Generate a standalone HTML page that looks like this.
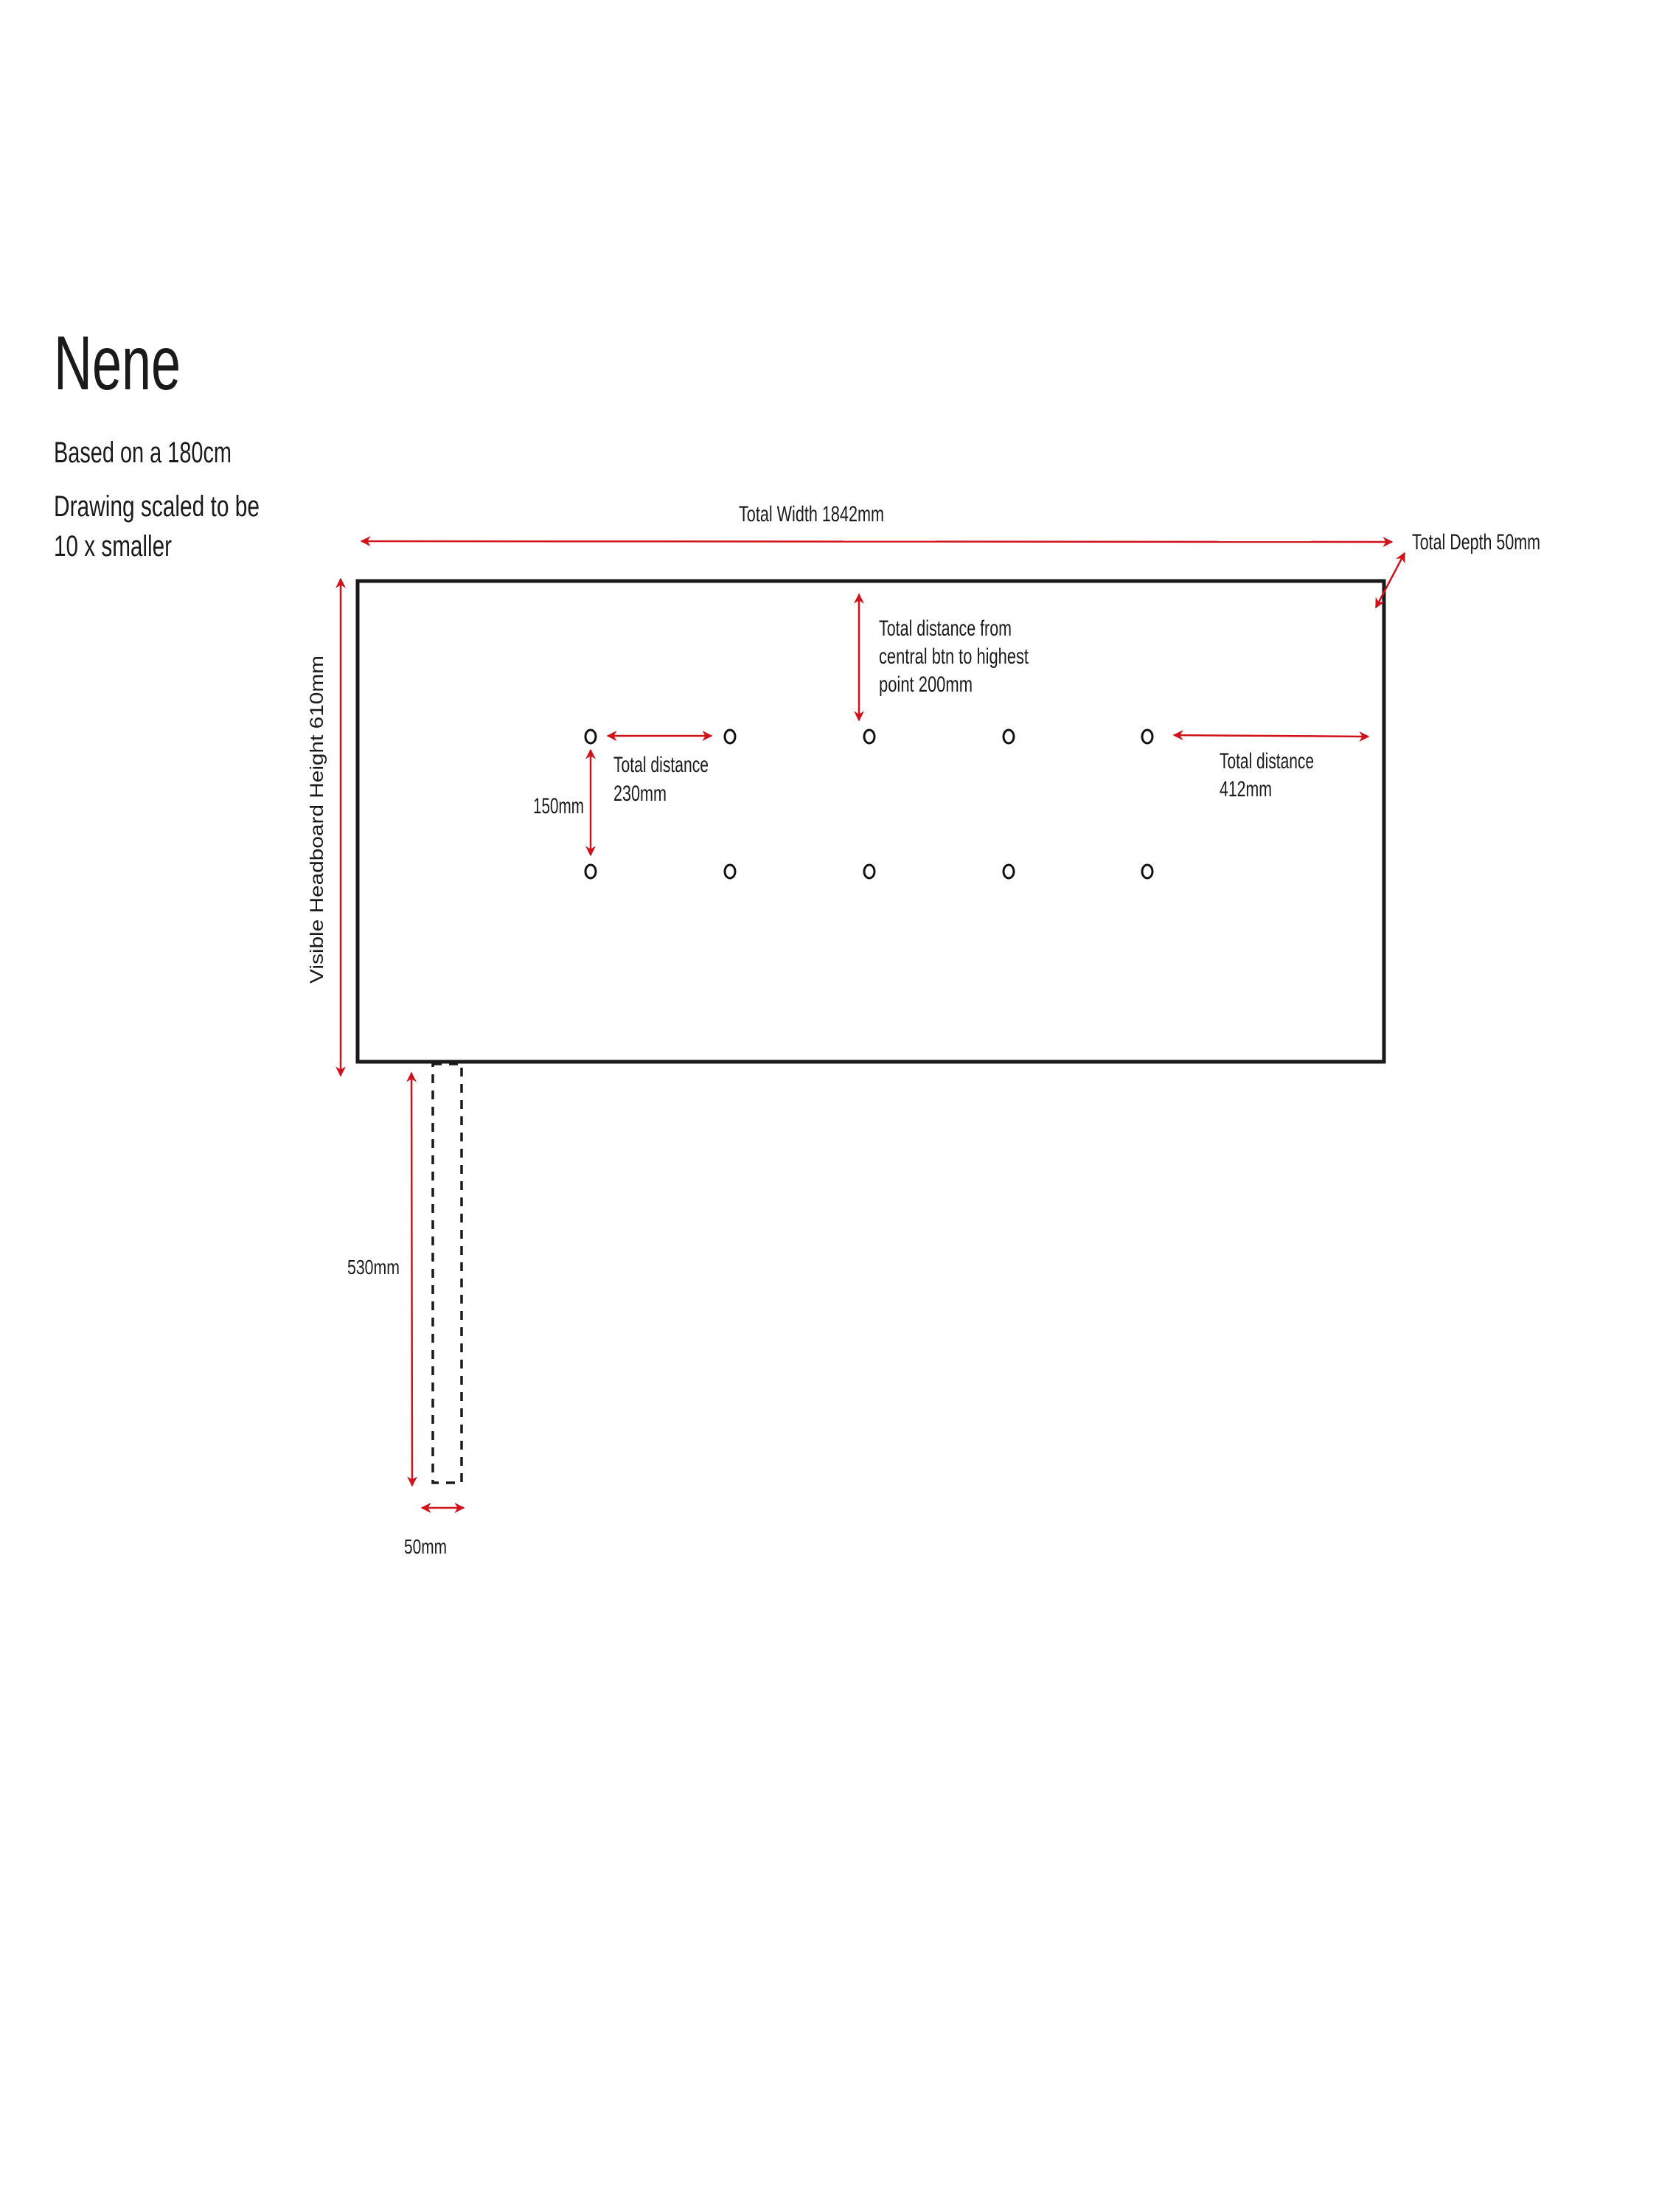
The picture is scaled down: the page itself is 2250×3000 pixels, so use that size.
<!DOCTYPE html>
<html><head><meta charset="utf-8"><style>
html,body{margin:0;padding:0;background:#fff;}
svg{display:block;}
text{font-family:"Liberation Sans",sans-serif;fill:#1a1a1a;}
</style></head><body>
<svg width="2250" height="3000" viewBox="0 0 2250 3000" xmlns="http://www.w3.org/2000/svg">
<defs>
<marker id="a" viewBox="0 0 10 10" refX="9" refY="5" markerWidth="14" markerHeight="14" markerUnits="userSpaceOnUse" orient="auto-start-reverse">
<path d="M0,0 L10,5 L0,10 L3,5 z" fill="#d0121b"/>
</marker>
</defs>
<text x="73" y="528" font-size="104" textLength="172" lengthAdjust="spacingAndGlyphs">Nene</text>
<text x="73" y="627" font-size="40" textLength="241" lengthAdjust="spacingAndGlyphs">Based on a 180cm</text>
<text x="73" y="700" font-size="40" textLength="279" lengthAdjust="spacingAndGlyphs">Drawing scaled to be</text>
<text x="73" y="754" font-size="40" textLength="160" lengthAdjust="spacingAndGlyphs">10 x smaller</text>

<rect x="485" y="788" width="1392" height="652" fill="none" stroke="#1a1a1a" stroke-width="5"/>
<rect x="587" y="1443" width="39" height="568" fill="none" stroke="#1a1a1a" stroke-width="3.5" stroke-dasharray="12,10"/>

<g stroke="#d0121b" stroke-width="2.5" fill="none">
<line x1="490" y1="734" x2="1888" y2="735" marker-start="url(#a)" marker-end="url(#a)"/>
<line x1="1905" y1="750" x2="1866" y2="824" marker-start="url(#a)" marker-end="url(#a)"/>
<line x1="462" y1="785" x2="462" y2="1459" marker-start="url(#a)" marker-end="url(#a)"/>
<line x1="1165" y1="806" x2="1165" y2="977" marker-start="url(#a)" marker-end="url(#a)"/>
<line x1="824" y1="998" x2="965" y2="998" marker-start="url(#a)" marker-end="url(#a)"/>
<line x1="801" y1="1017" x2="801" y2="1160" marker-start="url(#a)" marker-end="url(#a)"/>
<line x1="1592" y1="997" x2="1856" y2="999" marker-start="url(#a)" marker-end="url(#a)"/>
<line x1="558" y1="1455" x2="559" y2="2015" marker-start="url(#a)" marker-end="url(#a)"/>
<line x1="572" y1="2045" x2="629" y2="2045" marker-start="url(#a)" marker-end="url(#a)"/>
</g>

<g fill="none" stroke="#111" stroke-width="3">
<ellipse cx="801" cy="999" rx="7" ry="9"/>
<ellipse cx="990" cy="999" rx="7" ry="9"/>
<ellipse cx="1179" cy="999" rx="7" ry="9"/>
<ellipse cx="1368" cy="999" rx="7" ry="9"/>
<ellipse cx="1556" cy="999" rx="7" ry="9"/>
<ellipse cx="801" cy="1182" rx="7" ry="9"/>
<ellipse cx="990" cy="1182" rx="7" ry="9"/>
<ellipse cx="1179" cy="1182" rx="7" ry="9"/>
<ellipse cx="1368" cy="1182" rx="7" ry="9"/>
<ellipse cx="1556" cy="1182" rx="7" ry="9"/>
</g>

<text x="1002" y="707" font-size="30" textLength="197" lengthAdjust="spacingAndGlyphs">Total Width 1842mm</text>
<text x="1915" y="745" font-size="30" textLength="174" lengthAdjust="spacingAndGlyphs">Total Depth 50mm</text>
<text x="1192" y="862" font-size="30" textLength="180" lengthAdjust="spacingAndGlyphs">Total distance from</text>
<text x="1192" y="900" font-size="30" textLength="203" lengthAdjust="spacingAndGlyphs">central btn to highest</text>
<text x="1192" y="938" font-size="30" textLength="127" lengthAdjust="spacingAndGlyphs">point 200mm</text>
<text x="1654" y="1042" font-size="30" textLength="128" lengthAdjust="spacingAndGlyphs">Total distance</text>
<text x="1654" y="1080" font-size="30" textLength="71" lengthAdjust="spacingAndGlyphs">412mm</text>
<text x="832" y="1047" font-size="30" textLength="129" lengthAdjust="spacingAndGlyphs">Total distance</text>
<text x="832" y="1086" font-size="30" textLength="72" lengthAdjust="spacingAndGlyphs">230mm</text>
<text x="723" y="1103" font-size="30" textLength="69" lengthAdjust="spacingAndGlyphs">150mm</text>
<text x="471" y="1728" font-size="28" textLength="71" lengthAdjust="spacingAndGlyphs">530mm</text>
<text x="548" y="2107" font-size="28" textLength="58" lengthAdjust="spacingAndGlyphs">50mm</text>
<text x="0" y="0" font-size="25" textLength="445" lengthAdjust="spacingAndGlyphs" transform="translate(438,1334) rotate(-90)">Visible Headboard Height 610mm</text>
</svg>
</body></html>
